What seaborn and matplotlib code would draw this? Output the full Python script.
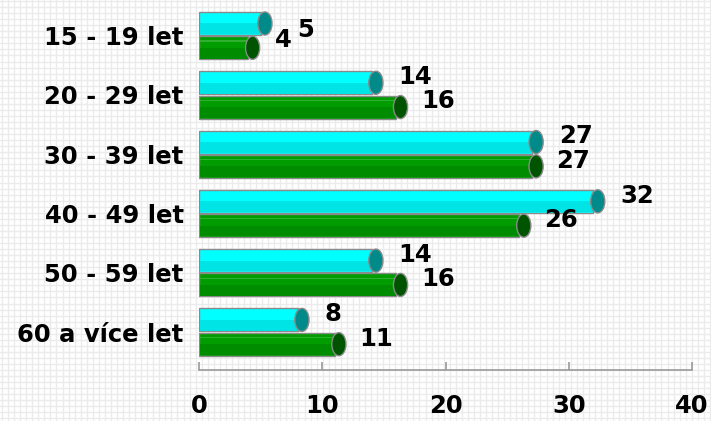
import numpy as np
import pandas as pd
import matplotlib
matplotlib.use("Agg")
import matplotlib.pyplot as plt
import seaborn as sns
from matplotlib.patches import Ellipse, Rectangle

categories = ["15 - 19 let", "20 - 29 let", "30 - 39 let", "40 - 49 let", "50 - 59 let", "60 a více let"]
series_names = ["Řada 1", "Řada 2"]
values_cyan = [5, 14, 27, 32, 14, 8]
values_green = [4, 16, 27, 26, 16, 11]
x_ticks = [0, 10, 20, 30, 40]

df = pd.DataFrame({
    "category": categories * 2,
    "series": [series_names[0]] * len(categories) + [series_names[1]] * len(categories),
    "value": values_cyan + values_green,
})

sns.set_theme(style="white")
plt.rcParams["font.family"] = ["DejaVu Sans"]
plt.rcParams["font.weight"] = "bold"

W, H = 711, 421
fig = plt.figure(figsize=(W / 100, H / 100), dpi=100)
fig.patch.set_facecolor("white")

# graph-paper background
bg = fig.add_axes([0, 0, 1, 1], zorder=-5)
bg.set_xlim(0, W)
bg.set_ylim(H, 0)
bg.axis("off")
for gx in np.arange(2, W, 6.05):
    bg.axvline(gx, color="#ebebeb", lw=1.0)
for gy in np.arange(1, H, 6.05):
    bg.axhline(gy, color="#ebebeb", lw=1.0)

ax = fig.add_axes([199 / W, 51 / H, 493 / W, 364 / H])
ax.set_facecolor("none")

cyan_top, cyan_bot, cyan_cap = "#00ffff", "#00e4e6", "#008a8a"
green_top, green_bot, green_cap = "#009c00", "#008c00", "#005400"

sns.barplot(data=df, x="value", y="category", hue="series", orient="h",
            palette=[cyan_top, green_top], saturation=1, width=0.82, gap=0.05,
            edgecolor="#8a8a8a", linewidth=1.0, legend=False, ax=ax)

ax.set_xlim(0, 40)
ax.set_ylim(5.64, -0.5)

bars = [p for p in ax.patches if isinstance(p, Rectangle)]
for p in bars:
    x0, y0, w, h = p.get_x(), p.get_y(), p.get_width(), p.get_height()
    fc = matplotlib.colors.to_hex(p.get_facecolor())
    is_cyan = fc == cyan_top
    bot = cyan_bot if is_cyan else green_bot
    cap = cyan_cap if is_cyan else green_cap
    p.set_zorder(2)
    # lower shading half
    ax.add_patch(Rectangle((x0 + 0.05, y0 + h * 0.5), max(w - 0.1, 0), h * 0.47,
                           facecolor=bot, edgecolor="none", zorder=2.5))
    if not is_cyan:
        ax.add_patch(Rectangle((x0 + 0.05, y0 + h * 0.18), max(w - 0.1, 0), h * 0.05,
                               facecolor="#30b030", edgecolor="none", zorder=2.5))
    # end cap
    ax.add_patch(Ellipse((x0 + w + 0.35, y0 + h / 2), width=1.15, height=h,
                         facecolor=cap, edgecolor="#8a8a8a", lw=1.0, zorder=3))

# value labels
fs = 17.5
for i in range(len(categories)):
    vc, vg = values_cyan[i], values_green[i]
    crowded = abs(vc - vg) < 3 and max(vc, vg) < 8
    if crowded:
        ax.text(vc + 3.0, i - 0.09, str(vc), ha="left", va="center",
                fontsize=fs, fontweight="bold", color="black")
        ax.text(vg + 2.2, i + 0.07, str(vg), ha="left", va="center",
                fontsize=fs, fontweight="bold", color="black")
    else:
        ax.text(vc + 2.2, i - 0.30, str(vc), ha="left", va="center",
                fontsize=fs, fontweight="bold", color="black")
        ax.text(vg + 2.0, i + 0.11, str(vg), ha="left", va="center",
                fontsize=fs, fontweight="bold", color="black")

ax.set_xticks(x_ticks)
ax.set_xticklabels([str(t) for t in x_ticks])
ax.set_xlabel("")
ax.set_ylabel("")
for s in ["top", "right", "left"]:
    ax.spines[s].set_visible(False)
ax.spines["bottom"].set_color("#9a9a9a")
ax.spines["bottom"].set_linewidth(1.2)
ax.tick_params(axis="x", direction="in", length=6, width=1.2, color="#9a9a9a",
               pad=17, labelsize=fs, labelcolor="black", bottom=True)
ax.tick_params(axis="y", length=0, pad=11, labelsize=fs, labelcolor="black")
for lab in ax.get_xticklabels() + ax.get_yticklabels():
    lab.set_fontweight("bold")
ax.grid(False)

fig.savefig("out.png", dpi=100)
